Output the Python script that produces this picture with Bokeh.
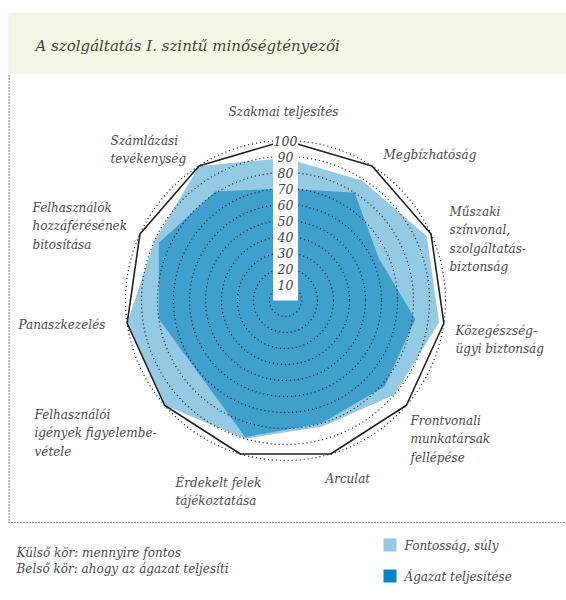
import numpy as np
from bokeh.plotting import figure
from bokeh.models import Range1d, ColumnDataSource
from bokeh.embed import file_html
from bokeh.resources import INLINE
from bokeh.core.properties import value

# ---------------- data ----------------
title = "A szolgáltatás I. szintű minőségtényezői"
categories = [
    "Szakmai teljesítés",
    "Megbízhatóság",
    "Műszaki\nszínvonal,\nszolgáltatás-\nbiztonság",
    "Közegészség-\nügyi biztonság",
    "Frontvonali\nmunkatársak\nfellépése",
    "Arculat",
    "Érdekelt felek\ntájékoztatása",
    "Felhasználói\nigények figyelembe-\nvétele",
    "Panaszkezelés",
    "Felhasználók\nhozzáférésének\nbitosítása",
    "Számlázási\ntevékenység",
]
importance = [89, 89, 97, 97, 90, 82, 90, 100, 100, 90, 100]   # Fontosság, súly
performance = [70, 80, 64, 82, 82, 80, 89, 71, 80, 87, 81]     # Ágazat teljesítése
rings = [10, 20, 30, 40, 50, 60, 70, 80, 90, 100]
ring_labels = ["10", "20", "30", "40", "50", "60", "70", "80", "90", "100"]
legend_labels = ["Fontosság, súly", "Ágazat teljesítése"]
notes = ["Külső kör: mennyire fontos", "Belső kör: ahogy az ágazat teljesíti"]

# ---------------- layout / style ----------------
W, H = 566, 600
SCALE = 1.6            # px per value unit
CX, CY = 285, 300      # radar centre in page px
FONT = value("DejaVu Serif")
TXT = "#4a4a4a"
LIGHT = "#94CAE3"
DARK = "#3FA0CE"
LEG_DARK = "#0A85C2"

def px(x):
    return (x - CX) / SCALE

def py(y):
    return (CY - y) / SCALE

# label anchors in page px: (x, first-line middle y, align)
label_layout = [
    (283, 112, "center"),
    (383, 155, "left"),
    (449, 212, "left"),
    (455, 331, "left"),
    (410, 421, "left"),
    (325, 479, "left"),
    (175, 483, "left"),
    (34, 415, "left"),
    (18, 325, "left"),
    (32, 208, "left"),
    (110, 141, "left"),
]

p = figure(width=W, height=H, output_backend="svg", toolbar_location=None,
           x_range=Range1d(px(0), px(W)), y_range=Range1d(py(H), py(0)),
           x_axis_type=None, y_axis_type=None, min_border=0,
           outline_line_color=None, background_fill_color="white",
           border_fill_color="white")
p.grid.visible = False

# title band
p.quad(left=[px(8)], right=[px(566)], top=[py(12)], bottom=[py(73)],
       fill_color="#F4F7E6", line_color=None)
p.text(x=[px(35)], y=[py(45)], text=[title], text_font=FONT, text_font_style="italic",
       text_font_size="15px", text_baseline="middle", text_color="#444444")

# dotted frame
p.line([px(8.6), px(8.6)], [py(75), py(522)], line_color="#333333", line_dash="1 2", line_width=1.2)
p.line([px(8), px(566)], [py(522), py(522)], line_color="#333333", line_dash="1 2", line_width=1.2)

# radar
n = len(categories)
ang = np.deg2rad(90 - np.arange(n) * 360.0 / n)
imp = np.array(importance, dtype=float)
perf = np.array(performance, dtype=float)
p.patch(imp * np.cos(ang), imp * np.sin(ang), fill_color=LIGHT, line_color=None)
p.patch(perf * np.cos(ang), perf * np.sin(ang), fill_color=DARK, line_color=None)

outer = np.full(n + 1, float(rings[-1]))
ang_c = np.append(ang, ang[0])
p.line(outer * np.cos(ang_c), outer * np.sin(ang_c), line_color="#222222", line_width=1.6)

p.circle(x=[0] * len(rings), y=[0] * len(rings), radius=rings, fill_alpha=0,
         line_color="#222222", line_dash="1 3", line_width=1.3)

# white column behind the ring labels
p.quad(left=[-7.8], right=[7.8], bottom=[0], top=[rings[-1] + 6],
       fill_color="white", line_color=None)
p.text(x=[0] * len(rings), y=rings, text=ring_labels, text_font=FONT,
       text_font_style="italic", text_font_size="12.5px", text_align="center",
       text_baseline="middle", text_color="#444444")

# category labels
lx = [px(a) for a, b, c in label_layout]
ly = [py(b - 8) for a, b, c in label_layout]
la = [c for a, b, c in label_layout]
src = ColumnDataSource(dict(x=lx, y=ly, text=categories, align=la))
p.text(x="x", y="y", text="text", text_align="align", source=src, text_font=FONT,
       text_font_style="italic", text_font_size="12px", text_baseline="top",
       text_line_height=1.33, text_color=TXT)

# notes
p.text(x=[px(16), px(16)], y=[py(552), py(568)], text=notes, text_font=FONT,
       text_font_style="italic", text_font_size="12px", text_baseline="middle",
       text_color=TXT)

# legend
p.quad(left=[px(383), px(383)], right=[px(396), px(396)], top=[py(538), py(569)],
       bottom=[py(551), py(582)], fill_color=[LIGHT, LEG_DARK], line_color=None)
p.text(x=[px(404), px(404)], y=[py(545), py(576)], text=legend_labels, text_font=FONT,
       text_font_style="italic", text_font_size="12px", text_baseline="middle",
       text_color=TXT)

open("out.html", "w").write(file_html(p, INLINE))
